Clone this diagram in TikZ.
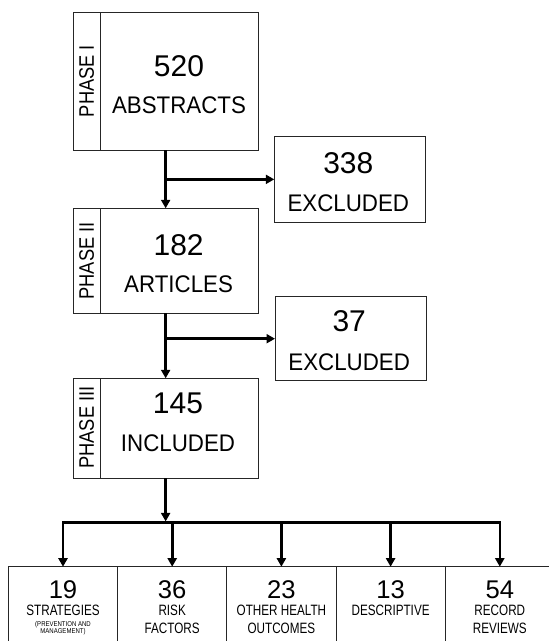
\documentclass[tikz,border=0pt]{standalone}
\usepackage{fontspec}
\setmainfont{Liberation Sans}
\newfontfamily\condA[FakeStretch=0.93]{Liberation Sans}
\newfontfamily\condP[FakeStretch=0.87]{Liberation Sans}
\newfontfamily\condB[FakeStretch=0.78]{Liberation Sans}
\newfontfamily\condS[FakeStretch=0.86]{Liberation Sans}
\usetikzlibrary{arrows.meta}
\begin{document}
\begin{tikzpicture}[x=1pt,y=-1pt,
  box/.style={draw=black!85,line width=0.9pt,rectangle,inner sep=0pt,outer sep=0pt},
  arr/.style={line width=2.6pt,-{Triangle[length=8.5pt,width=9pt]}},
  bar/.style={line width=2.6pt,line cap=rect},
  num/.style={anchor=base,inner sep=0pt,font=\fontsize{30}{30}\selectfont},
  word/.style={anchor=base,inner sep=0pt,font=\condA\fontsize{24}{24}\selectfont},
  phase/.style={rotate=90,inner sep=0pt,font=\condP\fontsize{21}{21}\selectfont},
  bnum/.style={anchor=base,inner sep=0pt,font=\fontsize{25.6}{25.6}\selectfont},
  bword/.style={anchor=base,inner sep=0pt,font=\condB\fontsize{15}{15}\selectfont},
  bsmall/.style={anchor=base,inner sep=0pt,font=\condS\fontsize{7}{7}\selectfont}
]
\clip (0,0) rectangle (549,641);
\fill[white] (0,0) rectangle (549,641);

% Phase boxes
\node[box,minimum width=184.7pt,minimum height=137.3pt] (p1) at (165.65,81.35) {};
\node[box,minimum width=26.7pt,minimum height=137.3pt] (s1) at (86.65,81.35) {};
\node[phase] (l1) at (86.7,81) {PHASE I};
\node[num] (n1) at (179,76.7) {520};
\node[word] (w1) at (179,113.3) {ABSTRACTS};

\node[box,minimum width=184.7pt,minimum height=105pt] (p2) at (165.65,260.8) {};
\node[box,minimum width=26.7pt,minimum height=105pt] (s2) at (86.65,260.8) {};
\node[phase] (l2) at (86.7,260.8) {PHASE II};
\node[num] (n2) at (178.6,255) {182};
\node[word] (w2) at (178.6,292.7) {ARTICLES};

\node[box,minimum width=184.7pt,minimum height=100pt] (p3) at (165.65,428.3) {};
\node[box,minimum width=26.7pt,minimum height=100pt] (s3) at (86.65,428.3) {};
\node[phase] (l3) at (86.7,427.5) {PHASE III};
\node[num] (n3) at (178,413.3) {145};
\node[word] (w3) at (178,451.7) {INCLUDED};

% Excluded boxes
\node[box,minimum width=151.3pt,minimum height=86.7pt] (e1) at (349.95,179.35) {};
\node[num] (en1) at (348.3,173.3) {338};
\node[word] (ew1) at (348.3,211.7) {EXCLUDED};

\node[box,minimum width=151.3pt,minimum height=84pt] (e2) at (350.65,338.7) {};
\node[num] (en2) at (349.2,331.7) {37};
\node[word] (ew2) at (349.2,370) {EXCLUDED};

% Connectors
\draw[arr] (p1.south) -- (p2.north);
\draw[arr] (p1.south |- e1.west) -- (e1.west);
\draw[arr] (p2.south) -- (p3.north);
\draw[arr] (p2.south |- e2.west) -- (e2.west);

% Bottom boxes
\foreach \i/\cx in {1/63,2/172.2,3/281.4,4/390.6,5/499.8}{
  \node[box,minimum width=109.2pt,minimum height=110pt,anchor=north] (b\i) at (\cx,566.7) {};
}
\coordinate (bar) at (165.65,522.7);
\coordinate (barin) at (165.65,521.4);
\draw[arr] (p3.south) -- (barin);
\draw[bar] (b1.north |- bar) -- (b5.north |- bar);
\foreach \i in {1,...,5}{
  \draw[arr] (b\i.north |- bar) -- (b\i.north);
}

\node[bnum] (bn1) at (63,598.3) {19};
\node[bword] (bw1) at (63,615.7) {STRATEGIES};
\node[bsmall] (bs1) at (63,626.7) {(PREVENTION AND};
\node[bsmall] (bs1b) at (63,633.5) {MANAGEMENT)};

\node[bnum] (bn2) at (172.2,598.3) {36};
\node[bword] (bw2) at (172.2,615.7) {RISK};
\node[bword] (bw2b) at (172.2,633.3) {FACTORS};

\node[bnum] (bn3) at (281.4,598.3) {23};
\node[bword] (bw3) at (281.4,615.7) {OTHER HEALTH};
\node[bword] (bw3b) at (281.4,633.3) {OUTCOMES};

\node[bnum] (bn4) at (390.6,598.3) {13};
\node[bword] (bw4) at (390.6,615.7) {DESCRIPTIVE};

\node[bnum] (bn5) at (499.8,598.3) {54};
\node[bword] (bw5) at (499.8,615.7) {RECORD};
\node[bword] (bw5b) at (499.8,633.3) {REVIEWS};
\end{tikzpicture}
\end{document}
